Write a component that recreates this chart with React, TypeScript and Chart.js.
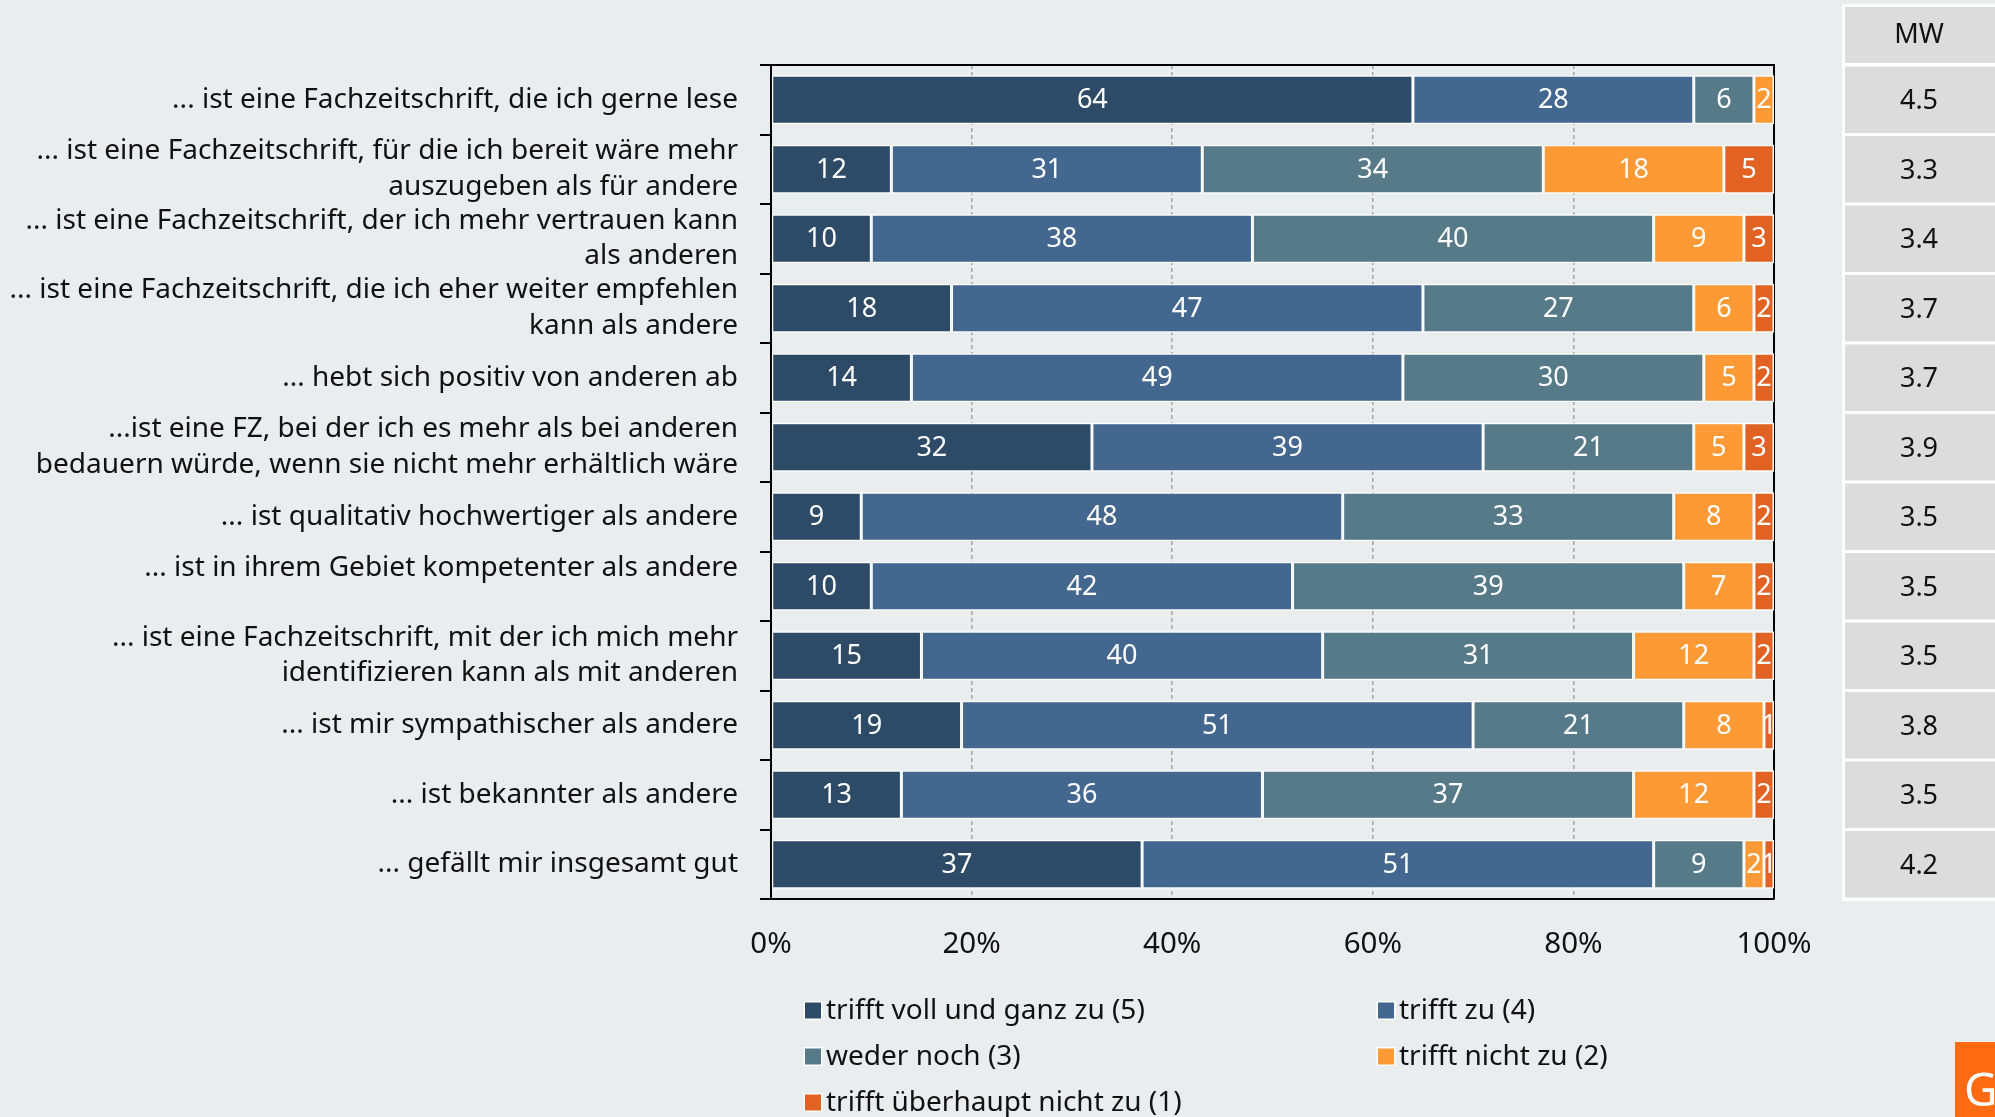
import React, { useEffect, useRef } from 'react';
import { Chart, registerables } from 'chart.js';

Chart.register(...registerables);

const categories: (string | string[])[] = [
  '... ist eine Fachzeitschrift, die ich gerne lese',
  ['... ist eine Fachzeitschrift, für die ich bereit wäre mehr', 'auszugeben als für andere'],
  ['... ist eine Fachzeitschrift, der ich mehr vertrauen kann', 'als anderen'],
  ['... ist eine Fachzeitschrift, die ich eher weiter empfehlen', 'kann als andere'],
  '... hebt sich positiv von anderen ab',
  ['...ist eine FZ, bei der ich es mehr als bei anderen', 'bedauern würde, wenn sie nicht mehr erhältlich wäre'],
  '... ist qualitativ hochwertiger als andere',
  ['... ist in ihrem Gebiet kompetenter als andere', ''],
  ['... ist eine Fachzeitschrift, mit der ich mich mehr', 'identifizieren kann als mit anderen'],
  '... ist mir sympathischer als andere',
  '... ist bekannter als andere',
  '... gefällt mir insgesamt gut',
];

const seriesNames = [
  'trifft voll und ganz zu (5)',
  'trifft zu (4)',
  'weder noch (3)',
  'trifft nicht zu (2)',
  'trifft überhaupt nicht zu (1)',
];
const seriesColors = ['#2d4a67', '#43678f', '#577a89', '#fe9a35', '#e16222'];

const trifftVoll = [64, 12, 10, 18, 14, 32, 9, 10, 15, 19, 13, 37];
const trifftZu = [28, 31, 38, 47, 49, 39, 48, 42, 40, 51, 36, 51];
const wederNoch = [6, 34, 40, 27, 30, 21, 33, 39, 31, 21, 37, 9];
const trifftNicht = [2, 18, 9, 6, 5, 5, 8, 7, 12, 8, 12, 2];
const ueberhauptNicht = [0, 5, 3, 2, 2, 3, 2, 2, 2, 1, 2, 1];

const mwHeader = 'MW';
const mwValues = ['4.5', '3.3', '3.4', '3.7', '3.7', '3.9', '3.5', '3.5', '3.5', '3.8', '3.5', '4.2'];

const FONT = "'Noto Sans', 'Open Sans', sans-serif";
const BG = '#e9eded';

const W = 1995;
const H = 1117;

export default function App() {
  const ref = useRef<HTMLCanvasElement | null>(null);

  useEffect(() => {
    document.body.style.margin = '0';
    document.body.style.background = BG;
    const canvas = ref.current;
    if (!canvas) return;

    const series = [trifftVoll, trifftZu, wederNoch, trifftNicht, ueberhauptNicht];

    const extrasPlugin = {
      id: 'extras',
      beforeDatasetsDraw(chart: any) {
        const { ctx, chartArea } = chart;
        ctx.save();
        ctx.strokeStyle = '#000';
        ctx.lineWidth = 2;
        ctx.beginPath();
        ctx.moveTo(chartArea.left - 11, chartArea.top);
        ctx.lineTo(chartArea.right + 1, chartArea.top);
        ctx.moveTo(chartArea.right, chartArea.top);
        ctx.lineTo(chartArea.right, chartArea.bottom);
        ctx.stroke();
        ctx.restore();
      },
      afterDatasetsDraw(chart: any) {
        const { ctx } = chart;
        ctx.save();
        ctx.fillStyle = '#ffffff';
        ctx.font = `27px ${FONT}`;
        ctx.textAlign = 'center';
        ctx.textBaseline = 'middle';
        chart.data.datasets.forEach((ds: any, di: number) => {
          const meta = chart.getDatasetMeta(di);
          meta.data.forEach((el: any, i: number) => {
            const v = ds.data[i];
            if (v === null || v === 0 || v === undefined) return;
            const p = el.getCenterPoint();
            ctx.fillText(String(v), p.x, p.y + 1);
          });
        });
        ctx.restore();
      },
      afterDraw(chart: any) {
        const { ctx, chartArea, scales } = chart;
        const yScale = scales.y;
        const n = categories.length;
        const band = (chartArea.bottom - chartArea.top) / n;
        // MW table
        const tx = chartArea.right + 68;
        ctx.save();
        ctx.fillStyle = '#ffffff';
        ctx.fillRect(tx, 4, W - tx, chartArea.bottom + 2 - 4);
        ctx.fillStyle = '#dcdcdc';
        ctx.fillRect(tx + 3, 7, W - tx - 3, chartArea.top - 2 - 7);
        ctx.fillStyle = '#111';
        ctx.font = `27px ${FONT}`;
        ctx.textAlign = 'center';
        ctx.textBaseline = 'middle';
        const cx = tx + 3 + 74;
        ctx.fillText(mwHeader, cx, (7 + chartArea.top - 2) / 2);
        mwValues.forEach((v, i) => {
          const c = yScale.getPixelForValue(i);
          ctx.fillStyle = '#dcdcdc';
          ctx.fillRect(tx + 3, c - band / 2 + 1.5, W - tx - 3, band - 3);
          ctx.fillStyle = '#111';
          ctx.fillText(v, cx, c + 2);
        });
        // Legend
        const cols = [805, 1378];
        const rows = [1011, 1057, 1103];
        ctx.font = `28px ${FONT}`;
        ctx.textAlign = 'left';
        ctx.textBaseline = 'middle';
        chart.data.datasets.forEach((ds: any, di: number) => {
          const x = cols[di % 2];
          const y = rows[Math.floor(di / 2)];
          ctx.fillStyle = '#ffffff';
          ctx.fillRect(x - 1.5, y - 10, 19, 19);
          ctx.fillStyle = ds.backgroundColor;
          ctx.fillRect(x, y - 8.5, 16, 16);
          ctx.fillStyle = '#111';
          ctx.fillText(ds.label, x + 21, y);
        });
        // logo
        ctx.fillStyle = '#ff6a12';
        ctx.fillRect(1955, 1042, W - 1955, H - 1042);
        ctx.fillStyle = '#ffffff';
        ctx.font = `46px ${FONT}`;
        ctx.textAlign = 'left';
        ctx.textBaseline = 'alphabetic';
        ctx.fillText('G', 1964, 1106);
        ctx.restore();
      },
    };

    const chart = new Chart(canvas, {
      type: 'bar',
      data: {
        labels: categories,
        datasets: series.map((d, i) => ({
          label: seriesNames[i],
          data: d.map((v) => (v === 0 ? null : v)),
          backgroundColor: seriesColors[i],
          borderColor: '#ffffff',
          borderWidth: 1.5,
          borderSkipped: false,
          barPercentage: 0.705,
          categoryPercentage: 1,
        })),
      },
      options: {
        indexAxis: 'y',
        responsive: false,
        maintainAspectRatio: false,
        devicePixelRatio: 1,
        animation: false,
        layout: { padding: { left: 0, right: 221, top: 65, bottom: 0 } },
        plugins: {
          legend: { display: false },
          tooltip: { enabled: false },
          title: { display: false },
        },
        scales: {
          x: {
            stacked: true,
            min: 0,
            max: 100,
            afterFit: (scale: any) => {
              scale.height = 218;
            },
            ticks: {
              stepSize: 20,
              padding: 28,
              color: '#111',
              autoSkip: false,
              maxRotation: 0,
              font: { family: FONT, size: 29.5 },
              callback: (v: any) => `${v}%`,
            },
            grid: {
              drawTicks: false,
              lineWidth: 1.5,
              color: (ctx: any) => {
                const v = ctx.tick ? ctx.tick.value : 0;
                return v === 0 || v === 100 ? 'rgba(0,0,0,0)' : '#a4a4a4';
              },
            },
            border: { display: true, color: '#000', width: 2, dash: [4, 3] },
          },
          y: {
            stacked: true,
            afterFit: (scale: any) => {
              scale.width = 771;
            },
            ticks: {
              padding: 22,
              color: '#111',
              autoSkip: false,
              font: { family: FONT, size: 28, lineHeight: 1.27 },
            },
            grid: {
              drawOnChartArea: false,
              drawTicks: true,
              tickLength: 11,
              color: '#000',
              lineWidth: 2,
            },
            border: { display: true, color: '#000', width: 2 },
          },
        },
      },
      plugins: [extrasPlugin],
    } as any);

    return () => {
      chart.destroy();
    };
  }, []);

  return (
    <div style={{ position: 'absolute', left: 0, top: 0, width: W, height: H, background: BG, overflow: 'hidden' }}>
      <canvas ref={ref} width={W} height={H} style={{ display: 'block', width: W, height: H }} />
    </div>
  );
}
